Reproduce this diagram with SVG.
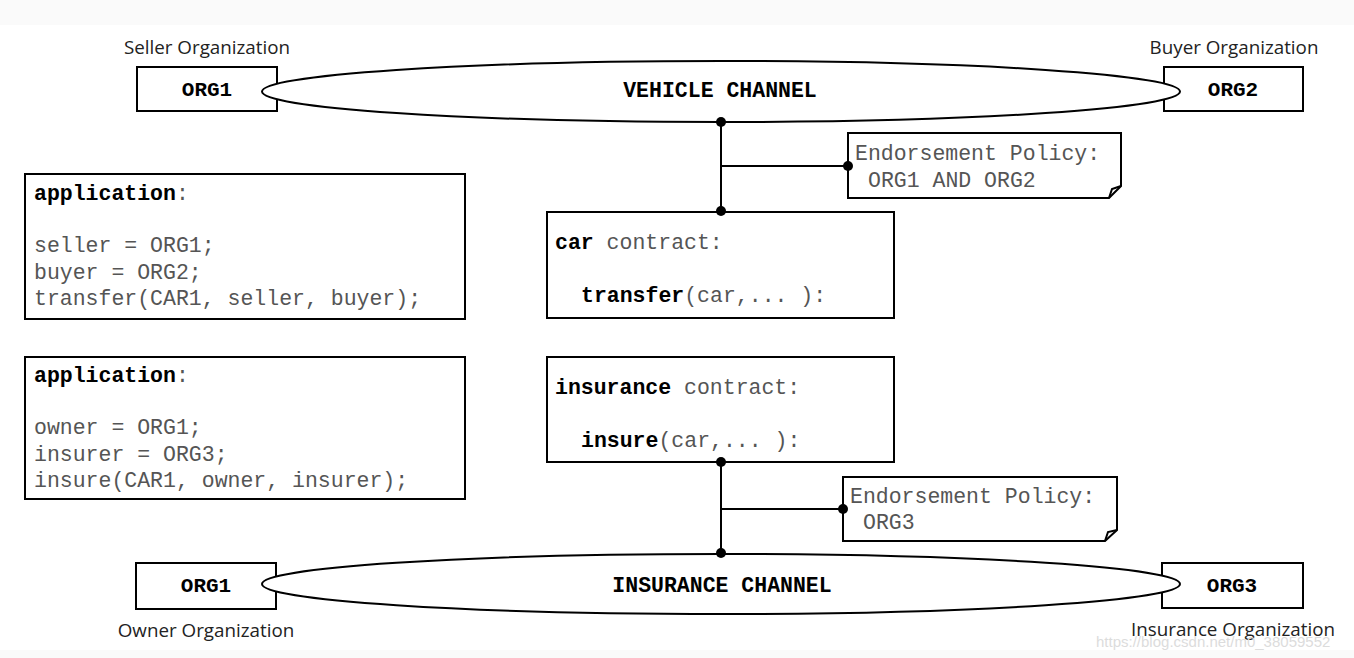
<svg xmlns="http://www.w3.org/2000/svg" width="1354" height="658" viewBox="0 0 1354 658">
<style>
.box{fill:#fff;stroke:#000;stroke-width:2}
.ell{fill:#fff;stroke:#000;stroke-width:2}
.org{font-family:"Liberation Mono",monospace;font-weight:bold;font-size:21px;fill:#000;text-anchor:middle}
.chan{font-family:"Liberation Mono",monospace;font-weight:bold;font-size:21.5px;fill:#000;text-anchor:middle}
.lbl{font-family:"Open Sans","Liberation Sans",sans-serif;font-size:18.8px;fill:#222;text-anchor:middle}
.code{font-family:"Liberation Mono",monospace;font-size:21.5px;fill:#555}
.b{font-weight:bold;fill:#000}
.ln{stroke:#000;stroke-width:2;fill:none}
.dot{fill:#000}
.wm{font-family:"Liberation Sans",sans-serif;font-size:15px;fill:#dcdcdc}
</style>
<rect x="0" y="0" width="1354" height="658" fill="#fff"/>
<rect x="0" y="0" width="1354" height="25" fill="#fafafa"/>
<rect x="0" y="650" width="1354" height="8" fill="#fafafa"/>

<g id="vehicle-channel">
<text class="lbl" x="207" y="54">Seller Organization</text>
<text class="lbl" x="1234" y="54">Buyer Organization</text>
<rect class="box" x="137" y="67" width="140" height="44"/>
<rect class="box" x="1164" y="67" width="139" height="44"/>
<text class="org" x="207" y="96">ORG1</text>
<text class="org" x="1233" y="96">ORG2</text>
<ellipse class="ell" cx="721" cy="91.5" rx="459" ry="30.5"/>
<text class="chan" x="720" y="97">VEHICLE CHANNEL</text>
</g>

<g id="insurance-channel">
<rect class="box" x="136" y="563" width="140" height="46"/>
<rect class="box" x="1162" y="563" width="141" height="45"/>
<text class="org" x="206" y="592">ORG1</text>
<text class="org" x="1232" y="592">ORG3</text>
<ellipse class="ell" cx="721" cy="584" rx="459" ry="30"/>
<text class="chan" x="722" y="592">INSURANCE CHANNEL</text>
<text class="lbl" x="206" y="637">Owner Organization</text>
<text class="lbl" x="1233" y="636">Insurance Organization</text>
</g>

<g id="app1">
<rect class="box" x="25" y="174" width="440" height="145"/>
<text class="code" x="34" y="200"><tspan class="b">application</tspan>:</text>
<text class="code" x="34" y="252">seller = ORG1;</text>
<text class="code" x="34" y="279">buyer = ORG2;</text>
<text class="code" x="34" y="305">transfer(CAR1, seller, buyer);</text>
</g>

<g id="app2">
<rect class="box" x="25" y="357" width="440" height="142"/>
<text class="code" x="34" y="382"><tspan class="b">application</tspan>:</text>
<text class="code" x="34" y="434">owner = ORG1;</text>
<text class="code" x="34" y="461">insurer = ORG3;</text>
<text class="code" x="34" y="487">insure(CAR1, owner, insurer);</text>
</g>

<g id="car-contract">
<rect class="box" x="547" y="212" width="347" height="106"/>
<text class="code" x="555" y="249"><tspan class="b">car</tspan> contract:</text>
<text class="code" x="581" y="302"><tspan class="b">transfer</tspan>(car,... ):</text>
</g>

<g id="insurance-contract">
<rect class="box" x="547" y="357" width="347" height="105"/>
<text class="code" x="555" y="394"><tspan class="b">insurance</tspan> contract:</text>
<text class="code" x="581" y="447"><tspan class="b">insure</tspan>(car,... ):</text>
</g>

<g id="policy1">
<path class="box" d="M848 133 H1121 V186 L1109 198 H848 Z"/>
<path class="ln" d="M1109 198 L1112 189 L1121 186" stroke-width="1.5"/>
<text class="code" x="855" y="160">Endorsement Policy:</text>
<text class="code" x="868" y="187">ORG1 AND ORG2</text>
</g>

<g id="policy2">
<path class="box" d="M843 477 H1117 V530 L1105 541 H843 Z"/>
<path class="ln" d="M1105 541 L1108 532 L1117 530" stroke-width="1.5"/>
<text class="code" x="850" y="503">Endorsement Policy:</text>
<text class="code" x="863" y="529">ORG3</text>
</g>

<g id="connectors">
<path class="ln" d="M721 122 V211 M721 166 H848"/>
<path class="ln" d="M721 462 V553 M721 509 H843"/>
<circle class="dot" cx="721" cy="122" r="5"/>
<circle class="dot" cx="721" cy="211" r="5"/>
<circle class="dot" cx="848" cy="166" r="5"/>
<circle class="dot" cx="721" cy="462" r="5"/>
<circle class="dot" cx="721" cy="553" r="5"/>
<circle class="dot" cx="843" cy="509" r="5"/>
</g>

<text class="wm" x="1096" y="647">https://blog.csdn.net/m0_38059552</text>
</svg>
